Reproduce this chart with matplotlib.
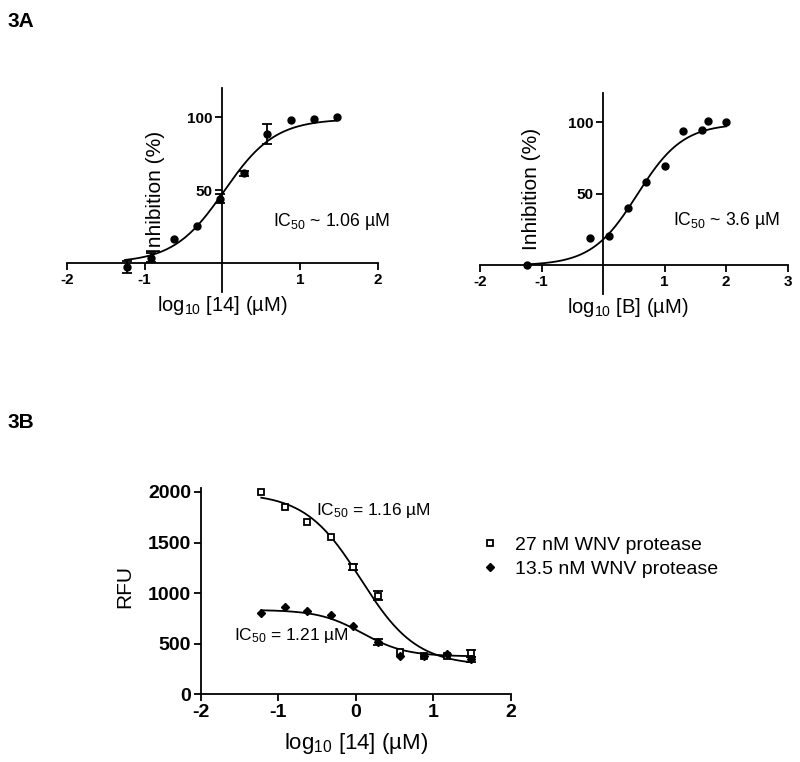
import numpy as np
import matplotlib
matplotlib.use("Agg")
import matplotlib.pyplot as plt

plt.rcParams.update({
    "font.family": ["Liberation Sans", "DejaVu Sans"],
    "mathtext.default": "regular",
    "axes.linewidth": 1.3,
    "xtick.major.width": 1.3,
    "ytick.major.width": 1.3,
})

# --- 3A left: compound 14 ---
x14 = [-1.22, -0.92, -0.62, -0.33, -0.03, 0.28, 0.58, 0.88, 1.18, 1.48]
inh14 = [-2.7, 3.6, 16.3, 25.3, 44.0, 61.5, 88.5, 98.4, 98.6, 100.0]
err14 = [4, 3, 0, 0, 3, 2, 7, 0, 0, 0]
fit14 = dict(bottom=0.0, top=99.0, logic50=0.025, hill=1.33)

# --- 3A right: compound B ---
xB = [-1.23, -0.21, 0.09, 0.40, 0.70, 1.00, 1.30, 1.60, 1.70, 2.00]
inhB = [0.0, 19.0, 20.5, 40.2, 58.0, 69.3, 93.5, 94.7, 101.0, 100.0]
fitB = dict(bottom=0.0, top=99.0, logic50=0.556, hill=1.17)

# --- 3B: RFU vs [14] at two protease concentrations ---
xr = [-1.22, -0.92, -0.63, -0.32, -0.03, 0.28, 0.57, 0.88, 1.18, 1.48]
rfu27 = [2003, 1855, 1707, 1558, 1262, 975, 421, 380, 378, 405]
err27 = [0, 0, 0, 0, 30, 45, 0, 0, 0, 35]
rfu135 = [804, 866, 824, 787, 675, 514, 378, 375, 395, 345]
err135 = [0, 0, 0, 0, 0, 30, 0, 0, 0, 25]
fit27 = dict(bottom=285.0, top=1990.0, logic50=0.064, hill=-1.21)
fit135 = dict(bottom=375.0, top=835.0, logic50=0.083, hill=-1.55)


def dose_response(x, bottom, top, logic50, hill):
    # 4-parameter logistic, Prism style
    return bottom + (top - bottom) / (1 + 10 ** ((logic50 - x) * hill))


def draw_errs(ax, x, y, e):
    x, y, e = np.asarray(x), np.asarray(y), np.asarray(e, dtype=float)
    m = e > 0
    ax.errorbar(x[m], y[m], yerr=e[m], fmt="none", ecolor="black",
                elinewidth=1.3, capsize=3.5, capthick=1.3)


def center_axes(ax, xlim, xticks):
    ax.set_xlim(*xlim)
    ax.set_ylim(-20, 120)
    ax.spines["left"].set_position(("data", 0))
    ax.spines["bottom"].set_position(("data", 0))
    ax.spines["top"].set_visible(False)
    ax.spines["right"].set_visible(False)
    ax.set_xticks(xticks)
    ax.set_xticklabels([str(t) for t in xticks])
    ax.set_yticks([50, 100])
    ax.tick_params(axis="both", direction="out", length=5, labelsize=11, pad=2)
    for lbl in ax.get_xticklabels() + ax.get_yticklabels():
        lbl.set_fontweight("bold")


fig = plt.figure(figsize=(8, 7.62), dpi=100)

# left panel
ax1 = fig.add_axes([0.0834, 0.617, 0.389, 0.267])
center_axes(ax1, (-2, 2), [-2, -1, 1, 2])
xs = np.linspace(min(x14) - 0.03, max(x14), 200)
ax1.plot(xs, dose_response(xs, **fit14), color="black", lw=1.3)
draw_errs(ax1, x14, inh14, err14)
ax1.plot(x14, inh14, "o", color="black", ms=5)
ax1.text(0.284, 0.49, "Inhibition (%)", transform=ax1.transAxes, rotation=90,
         ha="center", va="center", fontsize=15)
ax1.text(0.5, -0.01, "log$_{10}$ [14] (µM)", transform=ax1.transAxes,
         ha="center", va="top", fontsize=14.5)
ax1.text(0.65, 28.2, "IC$_{50}$ ~ 1.06 µM", ha="left", va="center", fontsize=12.7)

# right panel
ax2 = fig.add_axes([0.6, 0.614, 0.3846, 0.2634])
center_axes(ax2, (-2, 3), [-2, -1, 1, 2, 3])
xs = np.linspace(min(xB), max(xB), 200)
ax2.plot(xs, dose_response(xs, **fitB), color="black", lw=1.3)
ax2.plot(xB, inhB, "o", color="black", ms=5)
ax2.text(0.169, 0.523, "Inhibition (%)", transform=ax2.transAxes, rotation=90,
         ha="center", va="center", fontsize=15)
ax2.text(0.48, -0.01, "log$_{10}$ [B] (µM)", transform=ax2.transAxes,
         ha="center", va="top", fontsize=14.5)
ax2.text(1.13, 31.6, "IC$_{50}$ ~ 3.6 µM", ha="left", va="center", fontsize=12.7)

# bottom panel
ax3 = fig.add_axes([0.251, 0.0888, 0.3875, 0.2709])
ax3.set_xlim(-2, 2)
ax3.set_ylim(0, 2040)
ax3.spines["top"].set_visible(False)
ax3.spines["right"].set_visible(False)
ax3.set_xticks([-2, -1, 0, 1, 2])
ax3.set_xticklabels(["-2", "-1", "0", "1", "2"])
ax3.set_yticks([0, 500, 1000, 1500, 2000])
ax3.tick_params(axis="both", direction="out", length=5, labelsize=14, pad=2)
for lbl in ax3.get_xticklabels() + ax3.get_yticklabels():
    lbl.set_fontweight("bold")
xs = np.linspace(min(xr), max(xr), 200)
ax3.plot(xs, dose_response(xs, **fit27), color="black", lw=1.3)
ax3.plot(xs, dose_response(xs, **fit135), color="black", lw=1.3)
draw_errs(ax3, xr, rfu27, err27)
draw_errs(ax3, xr, rfu135, err135)
ax3.plot(xr, rfu27, "s", mfc="white", mec="black", mew=1.3, ms=5,
         label="27 nM WNV protease")
ax3.plot(xr, rfu135, "D", color="black", ms=4, label="13.5 nM WNV protease")
ax3.text(-0.245, 0.52, "RFU", transform=ax3.transAxes, rotation=90,
         ha="center", va="center", fontsize=15)
ax3.text(0.5, -0.18, "log$_{10}$ [14] (µM)", transform=ax3.transAxes,
         ha="center", va="top", fontsize=16)
ax3.text(-0.52, 1821, "IC$_{50}$ = 1.16 µM", ha="left", va="center", fontsize=12.5)
ax3.text(-1.57, 579, "IC$_{50}$ = 1.21 µM", ha="left", va="center", fontsize=12.5)
ax3.legend(loc="center left", bbox_to_anchor=(0.9, 0.665), frameon=False,
           fontsize=14, handlelength=1.0, handletextpad=0.8, labelspacing=0.35,
           borderpad=0, borderaxespad=0)

fig.text(0.01, 0.984, "3A", fontsize=15, fontweight="bold", va="top")
fig.text(0.01, 0.458, "3B", fontsize=15, fontweight="bold", va="top")

fig.savefig("out.png", dpi=100, facecolor="white")
